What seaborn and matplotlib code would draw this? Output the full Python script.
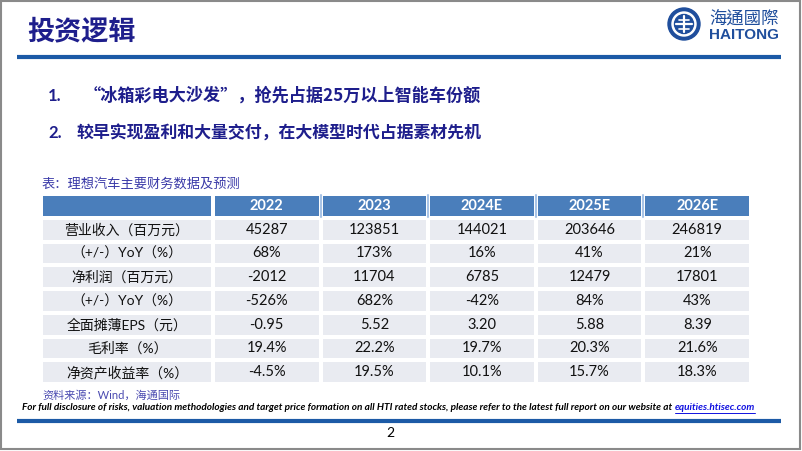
import numpy as np
import seaborn as sns
import matplotlib.pyplot as plt
from matplotlib.colors import ListedColormap
from matplotlib.patches import Rectangle, Circle

# Table data: Li Auto key financials and forecasts
years = ['2022', '2023', '2024E', '2025E', '2026E']
row_labels = ['营业收入（百万元）', '（+/-）YoY（%）', '净利润（百万元）', '（+/-）YoY（%）',
              '全面摊薄EPS（元）', '毛利率（%）', '净资产收益率（%）']
revenue = [45287, 123851, 144021, 203646, 246819]
revenue_yoy = [68, 173, 16, 41, 21]
net_profit = [-2012, 11704, 6785, 12479, 17801]
profit_yoy = [-526, 682, -42, 84, 43]
eps = [-0.95, 5.52, 3.20, 5.88, 8.39]
gross_margin = [19.4, 22.2, 19.7, 20.3, 21.6]
roe = [-4.5, 19.5, 10.1, 15.7, 18.3]

title = '投资逻辑'
bullets = ['“冰箱彩电大沙发”，抢先占据25万以上智能车份额',
           '较早实现盈利和大量交付，在大模型时代占据素材先机']
caption = '表：理想汽车主要财务数据及预测'
source = '资料来源：Wind，海通国际'
disclaimer = ('For full disclosure of risks, valuation methodologies and target price formation '
              'on all HTI rated stocks, please refer to the latest full report on our website at ')
link = 'equities.htisec.com'

sns.set_style('white')
plt.rcParams['font.family'] = ['Lato', 'Noto Sans CJK SC', 'DejaVu Sans']

W, H = 802, 451
fig = plt.figure(figsize=(W / 100, H / 100), dpi=100)
bg = fig.add_axes([0, 0, 1, 1])
bg.set_xlim(0, W)
bg.set_ylim(H, 0)
bg.axis('off')


def px_axes(x0, y0, x1, y1):
    return fig.add_axes([x0 / W, 1 - y1 / H, (x1 - x0) / W, (y1 - y0) / H])


navy = '#1e1e8c'
line_blue = '#1c5aa6'
header_c = '#4a7ebb'
body_c = '#e9ebf1'

# slide frame and rules
bg.add_patch(Rectangle((0.8, 0.8), 799.6, 448.6, fill=False, ec='#8a8a8a', lw=1.5))
bg.plot([17, 781], [57, 57], color=line_blue, lw=3, solid_capstyle='butt')
bg.plot([17, 781], [421, 421], color=line_blue, lw=3, solid_capstyle='butt')

# title
bg.text(27, 31, title, fontsize=19.5, fontweight='bold', color=navy,
        family=['Noto Sans CJK SC'], va='center', ha='left')

# logo
logo_c = '#1f4e9c'
bg.add_patch(Circle((684, 24), 16, color=logo_c))
bg.add_patch(Circle((684, 24), 12, color='white'))
bg.add_patch(Circle((684, 24), 9.5, color=logo_c))
bg.plot([676, 692], [24, 24], color='white', lw=1.6)
bg.plot([684, 684], [16, 32], color='white', lw=1.6)
bg.plot([679, 689], [19.5, 19.5], color='white', lw=1.2)
bg.plot([679, 689], [28.5, 28.5], color='white', lw=1.2)
bg.text(709, 20, '海通國際', fontsize=12.5, color=logo_c, family=['Noto Sans CJK TC'],
        va='center', ha='left')
bg.text(709, 35, 'HAITONG', fontsize=11, fontweight='bold', color=logo_c,
        family=['Liberation Sans'], va='center', ha='left')

# bullets
cjk_first = ['Noto Sans CJK SC', 'DejaVu Sans']
bg.text(48, 96, '1.', fontsize=12, fontweight='bold', color=navy, va='center')
bg.text(84, 96, bullets[0], fontsize=12.3, fontweight='bold', color=navy, va='center',
        family=cjk_first)
bg.text(48, 133, '2.', fontsize=12, fontweight='bold', color=navy, va='center')
bg.text(77, 133, bullets[1], fontsize=12.2, fontweight='bold', color=navy, va='center')

# caption and source
bg.text(42, 183, caption, fontsize=9.5, color='#3a3aa8', va='center')
bg.text(42, 395, source, fontsize=8, color='#4a4ab0', va='center')

# table cells
body = [
    [f'{v}' for v in revenue],
    [f'{v}%' for v in revenue_yoy],
    [f'{v}' for v in net_profit],
    [f'{v}%' for v in profit_yoy],
    [f'{v:.2f}' for v in eps],
    [f'{v:.1f}%' for v in gross_margin],
    [f'{v:.1f}%' for v in roe],
]
annot_r = np.array([years] + body)
annot_l = np.array([['']] + [[s] for s in row_labels])
codes_r = np.ones(annot_r.shape)
codes_r[0] = 0
codes_l = np.ones(annot_l.shape)
codes_l[0] = 0
cmap = ListedColormap([header_c, body_c])

top, bottom = 194, 384
axl = px_axes(41, top, 213, bottom)
axr = px_axes(213, top, 751, bottom)
for ax, codes, annot in [(axl, codes_l, annot_l), (axr, codes_r, annot_r)]:
    sns.heatmap(codes, ax=ax, cmap=cmap, vmin=0, vmax=1, annot=annot, fmt='',
                cbar=False, linewidths=1.5, linecolor='white',
                xticklabels=False, yticklabels=False,
                annot_kws={'fontsize': 10.5, 'color': '#111111'})
    for t in ax.texts:
        if t.get_position()[1] < 1:
            t.set_color('white')
            t.set_fontweight('bold')
for t in axl.texts:
    t.set_fontsize(10)
# lighter separators inside the header band
for xv in range(1, len(years)):
    axr.plot([xv, xv], [0.05, 0.95], color='#a9c4e6', lw=1.5)

# disclaimer fitted to the width of the slide
renderer = fig.canvas.get_renderer()
d = bg.text(22, 407, disclaimer, fontsize=10, fontweight='bold', style='italic',
            color='black', va='center', ha='left')
lk = bg.text(0, 407, link, fontsize=10, fontweight='bold', style='italic',
             color='#1010e0', va='center', ha='left')
wd = d.get_window_extent(renderer).width + lk.get_window_extent(renderer).width
size = 10 * (750 - 22) / wd
d.set_fontsize(size)
lk.set_fontsize(size)
x_end = 22 + d.get_window_extent(renderer).width
lk.set_x(x_end)
lw_link = lk.get_window_extent(renderer).width
bg.plot([x_end + 1, x_end + lw_link], [412.5, 412.5], color='#1010e0', lw=0.7)

# page number
bg.text(390, 433, '2', fontsize=10, color='black', va='center', ha='center')

fig.savefig('out.png', dpi=100)
plt.close(fig)
